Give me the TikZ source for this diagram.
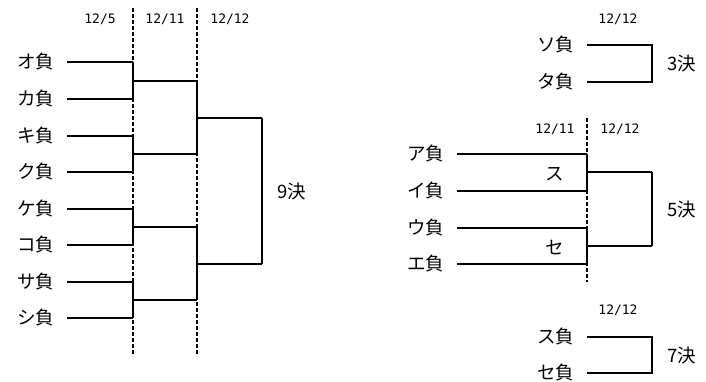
\documentclass[tikz,border=0pt]{standalone}
\usepackage{fontspec}
\newfontfamily\jpfont{Noto Sans CJK JP}
\newfontfamily\datefont{DejaVu Sans Mono}
\usepackage{tikz}
\usetikzlibrary{calc}
\usetikzlibrary{positioning}
\tikzset{team/.style={font=\jpfont\fontsize{18.5}{20}\selectfont, anchor=east, inner sep=0pt, outer xsep=13pt, outer ysep=0pt},
result/.style={font=\jpfont\fontsize{18.5}{20}\selectfont, inner sep=0pt},
date/.style={font=\datefont\fontsize{13}{15}\selectfont, inner sep=0pt},
bracket/.style={line width=2pt},
%dashed day lines
dayline/.style={line width=2pt, dash pattern=on 4pt off 2pt}}

\begin{document}
\begin{tikzpicture}[x=1pt,y=-1pt]
\useasboundingbox (0,0) rectangle (706,382);

% day lines
\foreach \x in {133,197}
     \draw[dayline] (\x,8) -- (\x,355);
\draw[dayline] (587,118) -- (587,282);

% dates
\node[date] (d5) at (100,19) {12/5};
\node[date] (d11) at (165,19) {12/11};
\node[date] (d12) at (230,19) {12/12};
\node[date] (e12) at (618,19) {12/12};
\node[date] (f11) at (555,129) {12/11};
\node[date] (f12) at (620,129) {12/12};
\node[date] (g12) at (618,310) {12/12};

% 9th place bracket
\foreach \t/\y [count=\i] in {オ/62,カ/99,キ/136,ク/172,ケ/209,コ/245,サ/282,シ/318}{
     \node[team] (l\i) at (67,\y) {\t 負};
     \coordinate (le\i) at (133,\y);
     \draw[bracket] (l\i.east) -- (le\i);
}
\foreach \a/\b/\y [count=\k] in {1/2/81,3/4/154,5/6/227,7/8/300}{
     \draw[bracket] (le\a) -- (le\b);
     \coordinate (r\k) at (133,\y);
     \coordinate (re\k) at (197,\y);
     \draw[bracket] (r\k) -- (re\k);
}
\foreach \a/\b/\y [count=\k] in {1/2/118,3/4/264}{
     \draw[bracket] (re\a) -- (re\b);
     \coordinate (q\k) at (197,\y);
     \coordinate (qe\k) at (262,\y);
     \draw[bracket] (q\k) -- (qe\k);
}
\draw[bracket] (qe1) -- (qe2);
\coordinate (w9) at ($(qe1)!.5!(qe2)$);
\node[result, right=15pt of w9] (p9) {9決};

% 3rd place
\node[team] (s1) at (587,45) {ソ負};
\node[team] (s2) at (587,82) {タ負};
\coordinate (se1) at (652,45);
\coordinate (se2) at (652,82);
\draw[bracket] (s1.east) -- (se1) -- (se2) -- (s2.east);
\coordinate (w3) at ($(se1)!.5!(se2)$);
\node[result, right=15pt of w3] (p3) {3決};

% 5th place bracket
\foreach \t/\y [count=\i] in {ア/154,イ/191,ウ/228,エ/264}{
     \node[team] (m\i) at (457,\y) {\t 負};
     \coordinate (me\i) at (587,\y);
     \draw[bracket] (m\i.east) -- (me\i);
}
\foreach \a/\b/\y/\t [count=\k] in {1/2/172/ス,3/4/246/セ}{
     \draw[bracket] (me\a) -- (me\b);
     \coordinate (n\k) at (587,\y);
     \coordinate (ne\k) at (652,\y);
     \draw[bracket] (n\k) -- (ne\k);
     \node[result] (x\k) at ([xshift=-32pt,yshift=-2pt]n\k) {\t};
}
\draw[bracket] (ne1) -- (ne2);
\coordinate (w5) at ($(ne1)!.5!(ne2)$);
\node[result, right=15pt of w5] (p5) {5決};

% 7th place
\node[team] (t1) at (587,337) {ス負};
\node[team] (t2) at (587,373) {セ負};
\coordinate (te1) at (652,337);
\coordinate (te2) at (652,373);
\draw[bracket] (t1.east) -- (te1) -- (te2) -- (t2.east);
\coordinate (w7) at ($(te1)!.5!(te2)$);
\node[result, right=15pt of w7] (p7) {7決};

\end{tikzpicture}
\end{document}
